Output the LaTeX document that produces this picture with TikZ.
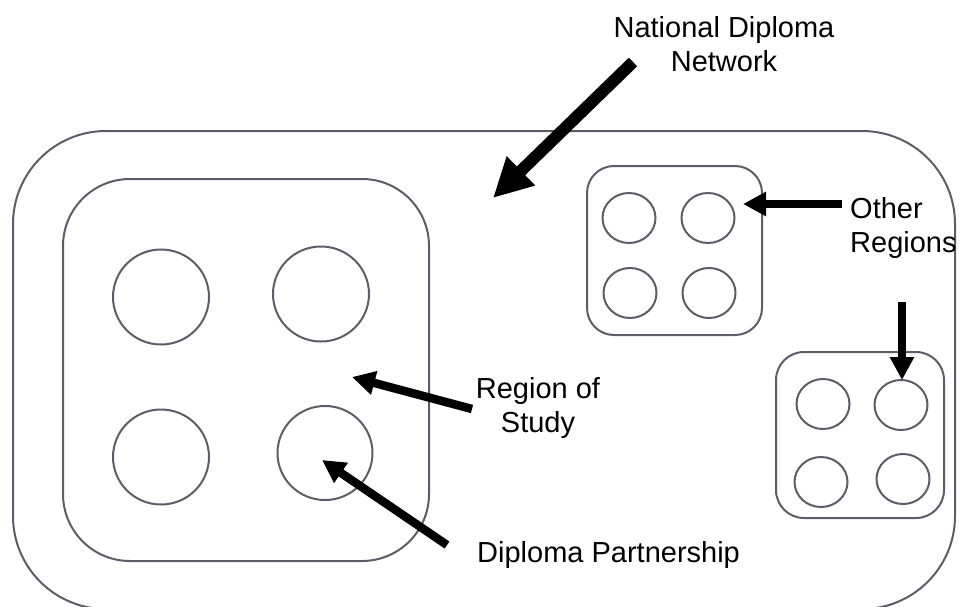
\documentclass[tikz,border=0pt]{standalone}
\usepackage{fontspec}
\setmainfont{Liberation Sans}
\usetikzlibrary{arrows.meta}
\usetikzlibrary{shapes.geometric}
\definecolor{edgegray}{HTML}{5A5E66}
\tikzset{
  box/.style={draw=edgegray, line width=2pt, inner sep=0pt},
  ring/.style={draw=edgegray, line width=2pt, ellipse, inner sep=0pt},
  lbl/.style={font=\fontsize{29}{34}\selectfont, inner sep=0pt, text=black},
  pointer/.style={line width=8.5pt, -{Triangle[length=23pt,width=23pt]}},
  bigpointer/.style={line width=12pt, -{Triangle[length=39pt,width=38pt]}}
}
\begin{document}
\begin{tikzpicture}[x=1pt,y=-1pt]
\useasboundingbox (0,0) rectangle (960,607);
\clip (0,0) rectangle (960,607);
% outer network
\node[box, rounded corners=93pt, minimum width=942pt, minimum height=478pt] (outer) at (484,370) {};
% region of study
\node[box, rounded corners=67pt, minimum width=366pt, minimum height=382pt] (region) at (246,370) {};
\node[ring, minimum width=96pt, minimum height=95pt] (c1) at (161,297) {};
\node[ring, minimum width=96pt, minimum height=95pt] (c2) at (321,294) {};
\node[ring, minimum width=96pt, minimum height=95pt] (c3) at (161,457) {};
\node[ring, minimum width=95pt, minimum height=94pt] (c4) at (325,453) {};
% other region 1
\node[box, rounded corners=27pt, minimum width=175pt, minimum height=169pt] (ra) at (674.5,250.5) {};
\node[ring, minimum width=53pt, minimum height=50pt] (a1) at (629,218) {};
\node[ring, minimum width=53pt, minimum height=50pt] (a2) at (708,218) {};
\node[ring, minimum width=53pt, minimum height=50pt] (a3) at (630,293) {};
\node[ring, minimum width=53pt, minimum height=50pt] (a4) at (709,293) {};
% other region 2
\node[box, rounded corners=28pt, minimum width=168pt, minimum height=166pt] (rb) at (860,435) {};
\node[ring, minimum width=53pt, minimum height=50pt] (b1) at (823,404) {};
\node[ring, minimum width=53pt, minimum height=50pt] (b2) at (901,405) {};
\node[ring, minimum width=53pt, minimum height=50pt] (b3) at (821,482) {};
\node[ring, minimum width=53pt, minimum height=50pt] (b4) at (903,479) {};
% labels
\node[lbl, align=center, anchor=base] (tnat) at (724,72) {National Diploma\\Network};
\node[lbl, align=left, anchor=base west] (toth) at (850,252) {Other\\Regions};
\node[lbl, align=center, anchor=base] (treg) at (538,432) {Region of\\Study};
\node[lbl, anchor=base west] (tdip) at (477,562) {Diploma Partnership};
% arrow ends
\coordinate (natS) at (633,62);
\coordinate (natT) at (493,198);
\coordinate (othS) at (842,204);
\coordinate (othT) at (743,204);
\coordinate (dwnS) at (902,302);
\coordinate (dwnT) at (902,380);
\coordinate (regS) at (472,409);
\coordinate (regT) at (352,377);
\coordinate (dipS) at (447,545);
\coordinate (dipT) at (322,460);
\draw[bigpointer] (natS) -- (natT);
\draw[pointer] (othS) -- (othT);
\draw[pointer] (dwnS) -- (dwnT);
\draw[pointer] (regS) -- (regT);
\draw[pointer] (dipS) -- (dipT);
\end{tikzpicture}
\end{document}
